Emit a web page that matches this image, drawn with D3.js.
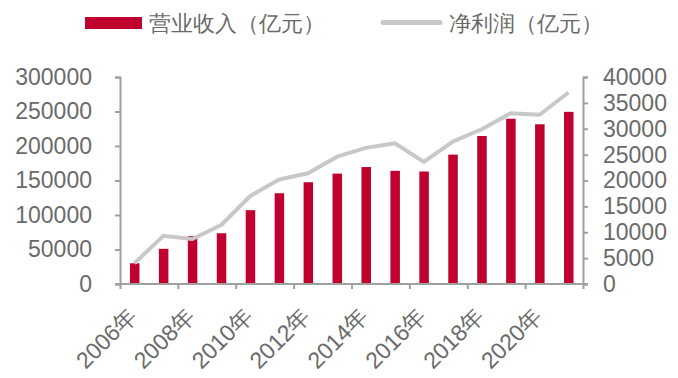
<!DOCTYPE html>
<html>
<head>
<meta charset="utf-8">
<script src="https://cdn.jsdelivr.net/npm/d3@7"></script>
<style>
  body { margin: 0; background: #fff; }
  text { font-family: "Liberation Sans", Arial, sans-serif; }
</style>
</head>
<body>
<svg id="chart" width="678" height="378"></svg>
<script>
// data
var years = ["2006","2007","2008","2009","2010","2011","2012","2013",
             "2014","2015","2016","2017","2018","2019","2020","2021"];
var revenue = [30000, 51000, 69500, 73500, 107000, 131500, 147500, 160000,
               169500, 164000, 163000, 187500, 214500, 239500, 231500, 249500];
var profit = [4000, 9300, 8700, 11400, 17000, 20200, 21400, 24600,
              26300, 27200, 23600, 27500, 29900, 33000, 32700, 37000];
var leftTicks = [0, 50000, 100000, 150000, 200000, 250000, 300000];
var rightTicks = [0, 5000, 10000, 15000, 20000, 25000, 30000, 35000, 40000];
var labelYears = ["2006", "2008", "2010", "2012", "2014", "2016", "2018", "2020"];

var red = "#c0002f", grey = "#c8c8c8", axisCol = "#a0a0a0", txtCol = "#6a6a6a";

var svg = d3.select("#chart");

var pLeft = 120, pRight = 583, pTop = 77, pBottom = 284;

var x = d3.scaleBand().domain(years).range([pLeft, pRight]);
var yL = d3.scaleLinear().domain([0, 300000]).range([pBottom, pTop]);
var yR = d3.scaleLinear().domain([0, 40000]).range([pBottom, pTop]);

function cx(yr) { return x(yr) + x.bandwidth() / 2; }

// bars
svg.selectAll("rect.bar")
    .data(revenue)
    .enter()
    .append("rect")
    .attr("class", "bar")
    .attr("x", function(d, i) { return cx(years[i]) - 4.5; })
    .attr("y", function(d) { return yL(d); })
    .attr("width", 9.5)
    .attr("height", function(d) { return pBottom - yL(d); })
    .style("fill", red);

// line
var line = d3.line()
    .x(function(d, i) { return cx(years[i]); })
    .y(function(d) { return yR(d); });

svg.append("path")
    .datum(profit)
    .attr("d", line)
    .attr("fill", "none")
    .attr("stroke", grey)
    .attr("stroke-width", 4)
    .attr("stroke-linejoin", "round");

// left axis
var gL = svg.append("g").attr("transform", "translate(" + pLeft + ",0)")
    .call(d3.axisLeft(yL).tickValues(leftTicks).tickSize(5).tickPadding(23).tickFormat(d3.format("d")));
// right axis
var gR = svg.append("g").attr("transform", "translate(" + pRight + ",0)")
    .call(d3.axisRight(yR).tickValues(rightTicks).tickSize(5).tickPadding(15).tickFormat(d3.format("d")));
// bottom axis: ticks every two categories
var xTickPos = d3.range(0, years.length + 1, 2).map(function(i) { return pLeft + i * x.step(); });
var gB = svg.append("g").attr("transform", "translate(0," + pBottom + ")")
    .call(d3.axisBottom(d3.scaleLinear().domain([pLeft, pRight]).range([pLeft, pRight]))
        .tickValues(xTickPos).tickSize(5).tickFormat(""));
gB.select(".domain").attr("d", "M" + (pLeft - 5) + ",0H" + (pRight + 5));

[gL, gR, gB].forEach(function(g) {
    g.select(".domain").attr("stroke", axisCol).attr("stroke-width", 2);
    g.selectAll(".tick line").attr("stroke", axisCol).attr("stroke-width", 2);
    g.selectAll(".tick text").attr("fill", txtCol).attr("font-size", "23px")
        .attr("font-family", "'Liberation Sans', Arial, sans-serif");
});

// x labels, rotated
svg.selectAll("text.xlab")
    .data(labelYears)
    .enter()
    .append("text")
    .attr("class", "xlab")
    .attr("transform", function(d) { return "translate(" + (cx(d) - 2) + ",312) rotate(-45)"; })
    .attr("text-anchor", "end")
    .attr("dominant-baseline", "central")
    .attr("font-size", "23px")
    .attr("fill", txtCol)
    .text(function(d) { return d + "年"; });

// legend
svg.append("rect")
    .attr("x", 85).attr("y", 17).attr("width", 57).attr("height", 12)
    .style("fill", red);
svg.append("text")
    .attr("x", 149).attr("y", 31)
    .text("营业收入（亿元）")
    .attr("font-family", "'Noto Sans CJK SC', sans-serif")
    .attr("font-weight", 300)
    .attr("font-size", "22px")
    .attr("fill", txtCol);
svg.append("line")
    .attr("x1", 383).attr("x2", 440).attr("y1", 22.5).attr("y2", 22.5)
    .attr("stroke", grey).attr("stroke-width", 5).attr("stroke-linecap", "round");
svg.append("text")
    .attr("x", 449).attr("y", 31)
    .text("净利润（亿元）")
    .attr("font-family", "'Noto Sans CJK SC', sans-serif")
    .attr("font-weight", 300)
    .attr("font-size", "22px")
    .attr("fill", txtCol);
</script>
</body>
</html>
